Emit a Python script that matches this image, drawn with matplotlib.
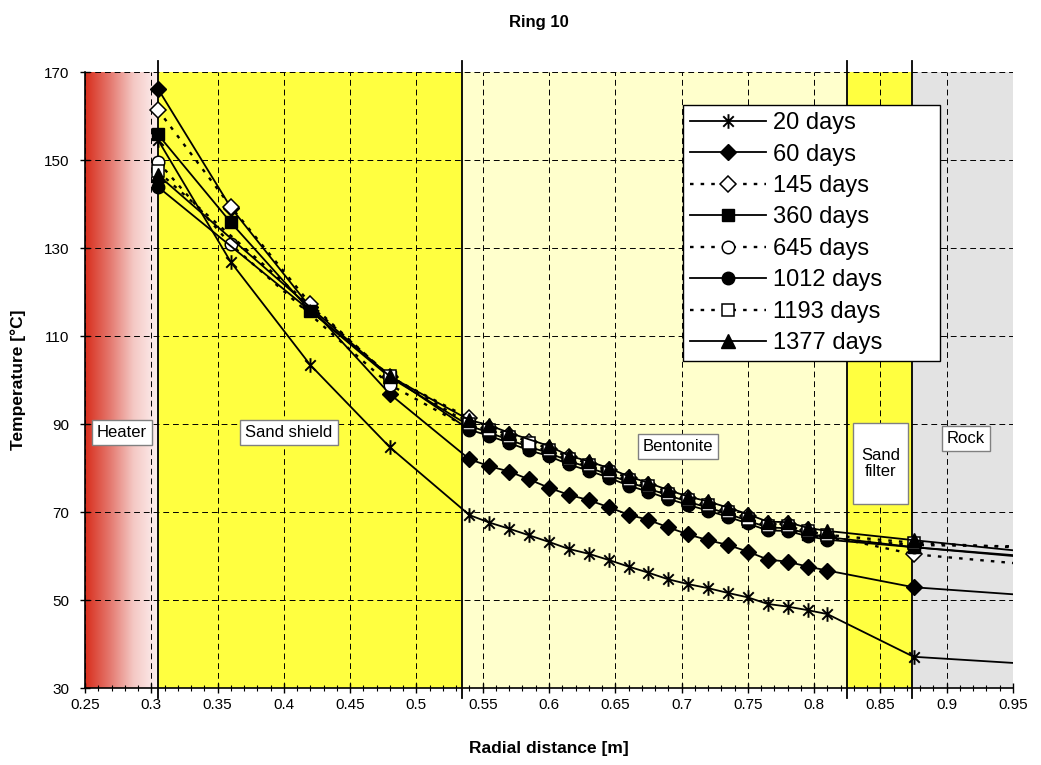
import numpy as np
import matplotlib

matplotlib.use("Agg")

from matplotlib import pyplot as plt
from matplotlib.path import Path
from matplotlib.patches import Rectangle
from matplotlib.colors import LinearSegmentedColormap
from matplotlib.ticker import MultipleLocator, FuncFormatter

plt.rcParams["font.family"] = ["Liberation Sans", "DejaVu Sans"]

# sensor positions [m]; the last one only carries the line to the edge
RADIUS = [0.305, 0.36, 0.42, 0.48,
          0.54, 0.555, 0.57, 0.585, 0.60, 0.615, 0.63, 0.645, 0.66, 0.675,
          0.69, 0.705, 0.72, 0.735, 0.75, 0.765, 0.78, 0.795, 0.81,
          0.875, 0.95]

nan = np.nan
T_20 = [154.6, 126.8, 103.4, 84.7,
        69.3, 67.6, 66.2, 64.7, 63.2, 61.6, 60.5, 59.1, 57.6, 56.2,
        54.7, 53.6, 52.7, 51.6, 50.6, 49.1, 48.5, 47.7, 46.8,
        37.1, 35.7]
T_60 = [166.2, 139.2, 116.5, 96.8,
        82.0, 80.4, 79.2, 77.4, 75.5, 73.9, 72.7, 71.1, 69.4, 68.2,
        66.5, 64.9, 63.6, 62.5, 61.0, 59.2, 58.7, 57.6, 56.7,
        52.9, 51.3]
T_145 = [161.4, 139.4, 117.3, 100.7,
         91.3, 89.2, 87.5, 86.0, 84.4, 82.5, 81.0, 79.5, 77.7, 76.2,
         74.6, 73.1, 71.9, 70.5, 69.0, 67.3, 67.2, 66.0, 64.6,
         60.4, 58.4]
T_360 = [155.8, 135.8, 115.7, 100.6,
         89.6, 88.0, 86.4, 84.8, 83.4, 81.6, 80.1, 78.5, 76.8, 75.3,
         73.8, 72.3, 71.0, 69.6, 68.0, 66.5, 66.3, 65.1, 64.3,
         62.0, 60.0]
T_645 = [149.6, 130.8, nan, 98.9,
         89.0, 87.6, 86.0, 84.5, 83.0, 81.2, 79.8, 78.2, 76.5, 75.0,
         73.5, 72.0, 70.8, 69.3, 67.8, 66.2, 66.0, 64.9, 64.0,
         62.5, 62.2]
T_1012 = [143.9, nan, nan, 101.0,
          88.7, 87.3, 85.7, 84.0, 82.7, 80.8, 79.4, 77.8, 76.0, 74.6,
          73.0, 71.6, 70.3, 68.9, 67.4, 65.8, 65.7, 64.5, 63.7,
          62.0, 60.2]
T_1193 = [147.4, nan, nan, 100.9,
          90.0, 88.6, 87.0, 85.6, 84.0, 82.0, 80.6, 79.0, 77.2, 75.8,
          74.2, 72.7, 71.5, 70.0, 68.5, 66.9, 66.8, 65.6, 64.8,
          63.0, 62.0]
T_1377 = [146.6, nan, nan, 100.8,
          90.9, 89.7, 88.0, nan, 85.0, 82.8, 81.5, 80.0, 78.1, 76.6,
          75.0, 73.5, 72.4, 71.0, 69.5, 67.8, 67.7, 66.4, 65.7,
          63.6, 61.3]

SERIES_LABELS = ["20 days", "60 days", "145 days", "360 days",
                 "645 days", "1012 days", "1193 days", "1377 days"]
SERIES_VALUES = [T_20, T_60, T_145, T_360, T_645, T_1012, T_1193, T_1377]

ZONE_NAMES = ["Sand shield", "Bentonite", "Sand filter", "Rock"]
ZONE_EDGES = [0.305, 0.534, 0.8245, 0.874, 0.95]
ZONE_COLORS = ["#FFFF40", "#FFFFCC", "#FFFF40", "#E3E3E3"]

# asterisk as drawn by the spreadsheet: vertical bar plus an x
ASTERISK = Path(
    [(0, -1), (0, 1), (-0.72, -0.72), (0.72, 0.72), (-0.72, 0.72), (0.72, -0.72)],
    [Path.MOVETO, Path.LINETO] * 3,
)

SOLID = "-"
DOTTED = (0, (1.5, 3))
STYLES = [
    dict(marker=ASTERISK, ms=10.5, mfc="none", mec="black", mew=1.4, ls=SOLID),
    dict(marker="D", ms=8.5, mfc="black", mec="black", mew=1.0, ls=SOLID),
    dict(marker="D", ms=8.5, mfc="white", mec="black", mew=1.1, ls=DOTTED),
    dict(marker="s", ms=9, mfc="black", mec="black", mew=1.0, ls=SOLID),
    dict(marker="o", ms=9, mfc="white", mec="black", mew=1.1, ls=DOTTED),
    dict(marker="o", ms=9, mfc="black", mec="black", mew=1.0, ls=SOLID),
    dict(marker="s", ms=9, mfc="white", mec="black", mew=1.1, ls=DOTTED),
    dict(marker="^", ms=9.5, mfc="black", mec="black", mew=1.0, ls=SOLID),
]

W, H = 1041, 765
fig = plt.figure(figsize=(W / 100, H / 100), dpi=100)
fig.patch.set_facecolor("white")
ax = fig.add_axes([85 / W, 1 - 688 / H, 928 / W, 616 / H])

# heater: red fading to white towards its surface
gradient = np.linspace(0, 1, 256).reshape(1, -1)
heater_cmap = LinearSegmentedColormap.from_list(
    "heater", ["#D82E1C", "#E4766C", "#F4C8C4", "#FDF0F0"])
ax.imshow(gradient, extent=[0.25, ZONE_EDGES[0], 30, 170], aspect="auto",
          cmap=heater_cmap, zorder=0.1, interpolation="bilinear")
for left, right, color in zip(ZONE_EDGES[:-1], ZONE_EDGES[1:], ZONE_COLORS):
    ax.axvspan(left, right, color=color, lw=0, zorder=0.2)
for edge in ZONE_EDGES[:-1]:
    ax.plot([edge, edge], [27.8, 172.4], color="black", lw=1.3,
            clip_on=False, zorder=1.5)

ax.set_xlim(0.25, 0.95)
ax.set_ylim(30, 170)
ax.set_axisbelow(True)
ax.grid(True, which="major", color="black", lw=0.7, linestyle=(0, (6, 4)))

ax.xaxis.set_major_locator(MultipleLocator(0.05))
ax.xaxis.set_minor_locator(MultipleLocator(0.01))
ax.xaxis.set_major_formatter(FuncFormatter(lambda v, _: f"{v:g}"))
ax.set_yticks(np.arange(30, 171, 20))
ax.tick_params(axis="both", which="major", direction="inout", length=7,
               width=1, labelsize=11, colors="black")
ax.tick_params(axis="y", which="major", pad=8)
ax.tick_params(axis="x", which="minor", direction="inout", length=4, width=0.8)
ax.tick_params(axis="y", which="minor", left=False)
for side in ("top", "right"):
    ax.spines[side].set_visible(False)
for side in ("left", "bottom"):
    ax.spines[side].set_linewidth(1.2)

radius = np.array(RADIUS)
for k, (label, values) in enumerate(zip(SERIES_LABELS, SERIES_VALUES)):
    values = np.array(values, dtype=float)
    keep = ~np.isnan(values)
    xs, ys = radius[keep], values[keep]
    st = STYLES[k]
    ax.plot(xs, ys, color="black", lw=1.3 if st["ls"] == SOLID else 1.7,
            linestyle=st["ls"], marker=st["marker"], ms=st["ms"],
            mfc=st["mfc"], mec=st["mec"], mew=st["mew"],
            markevery=list(range(len(xs) - 1)), label=label, zorder=3 + k * 0.1)

box = dict(boxstyle="square,pad=0.3", fc="white", ec="#808080", lw=1)
ax.text(0.2779, 88.0, "Heater", ha="center", va="center", fontsize=12, bbox=box, zorder=5)
ax.text(0.4038, 88.0, ZONE_NAMES[0], ha="center", va="center", fontsize=12, bbox=box, zorder=5)
ax.text(0.6972, 84.8, ZONE_NAMES[1], ha="center", va="center", fontsize=12, bbox=box, zorder=5)
ax.text(0.9144, 86.6, ZONE_NAMES[3], ha="center", va="center", fontsize=12, bbox=box, zorder=5)
ax.add_patch(Rectangle((0.8292, 71.8), 0.0415, 18.4, fc="white", ec="#808080",
                       lw=1, zorder=5))
ax.text(0.8499, 81.0, "Sand\nfilter", ha="center", va="center", fontsize=12,
        linespacing=1.15, zorder=6)

leg = ax.legend(loc="upper left", bbox_to_anchor=(0.6444, 0.5, 0.277, 0.4464),
                mode="expand", frameon=True, fancybox=False, edgecolor="black",
                fontsize=17, handlelength=3.2, handletextpad=0.3,
                labelspacing=0.4, borderpad=0.3, borderaxespad=0,
                numpoints=1, framealpha=1)
leg.get_frame().set_linewidth(1.0)
leg.set_zorder(10)

fig.text(539 / W, 1 - 22 / H, "Ring 10", ha="center", va="center",
         fontsize=12, weight="bold")
fig.text(18 / W, 1 - 380 / H, "Temperature [°C]", ha="center", va="center",
         rotation=90, fontsize=12.5, weight="bold")
fig.text(549 / W, 1 - 748 / H, "Radial distance [m]", ha="center", va="center",
         fontsize=12.5, weight="bold")

fig.savefig("out.png", dpi=100, facecolor=fig.get_facecolor())
plt.close(fig)
